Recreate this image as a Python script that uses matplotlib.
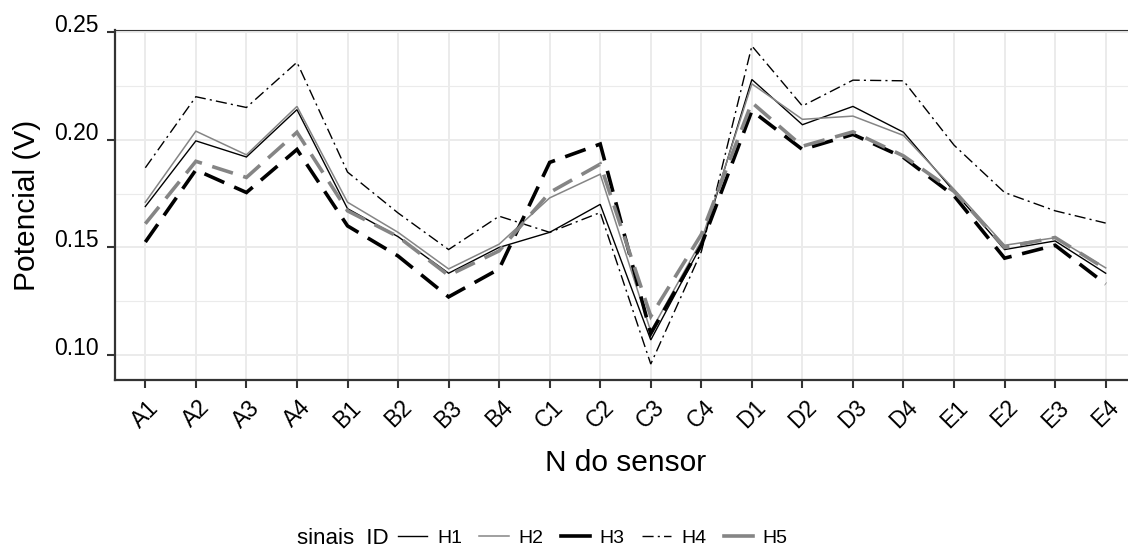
import matplotlib
matplotlib.use("Agg")
import matplotlib.pyplot as plt
from matplotlib.lines import Line2D

plt.rcParams['font.family'] = ['Liberation Sans', 'DejaVu Sans']

# sensor labels and signal values (V)
sensores = ['A1', 'A2', 'A3', 'A4', 'B1', 'B2', 'B3', 'B4', 'C1', 'C2',
            'C3', 'C4', 'D1', 'D2', 'D3', 'D4', 'E1', 'E2', 'E3', 'E4']
H1 = [0.169, 0.1995, 0.192, 0.214, 0.168, 0.155, 0.138, 0.150, 0.157, 0.170,
      0.107, 0.151, 0.228, 0.207, 0.2155, 0.2035, 0.176, 0.149, 0.153, 0.138]
H2 = [0.171, 0.204, 0.193, 0.2155, 0.171, 0.157, 0.140, 0.1515, 0.173, 0.184,
      0.111, 0.153, 0.226, 0.2095, 0.211, 0.202, 0.177, 0.151, 0.1545, 0.1405]
H3 = [0.1525, 0.186, 0.1755, 0.1955, 0.160, 0.146, 0.127, 0.140, 0.1895, 0.198,
      0.110, 0.151, 0.2135, 0.1955, 0.2025, 0.1918, 0.174, 0.145, 0.151, 0.133]
H4 = [0.187, 0.220, 0.215, 0.236, 0.185, 0.166, 0.149, 0.1645, 0.157, 0.1662,
      0.0958, 0.148, 0.2436, 0.2157, 0.2277, 0.2274, 0.1975, 0.1755, 0.167, 0.1613]
H5 = [0.161, 0.190, 0.1825, 0.2035, 0.167, 0.155, 0.137, 0.1484, 0.1755, 0.1887,
      0.118, 0.156, 0.2173, 0.197, 0.2037, 0.1925, 0.176, 0.150, 0.1546, 0.140]

series = {'H1': H1, 'H2': H2, 'H3': H3, 'H4': H4, 'H5': H5}
estilos = {
    'H1': dict(color='black', lw=1.0, ls='-'),
    'H2': dict(color='#858585', lw=1.1, ls='-'),
    'H3': dict(color='black', lw=2.6, ls=(0, (6, 3))),
    'H4': dict(color='black', lw=1.0, ls=(0, (8, 3, 1.5, 3))),
    'H5': dict(color='#858585', lw=2.6, ls=(0, (6, 3))),
}

fig = plt.figure(figsize=(11.28, 5.54), dpi=100)
ax = fig.add_axes([115 / 1128, 174 / 554, 1021 / 1128, 350 / 554])

x = list(range(len(sensores)))
for nome, vals in series.items():
    st = estilos[nome]
    ax.plot(x, vals, color=st['color'], lw=st['lw'], linestyle=st['ls'],
            solid_joinstyle='miter', dash_joinstyle='miter')

ax.set_xlim(-0.6, len(sensores) - 1 + 0.6)
ax.set_ylim(0.0884, 0.2510)
ax.set_yticks([0.10, 0.15, 0.20, 0.25])
ax.set_yticklabels(['0.10', '0.15', '0.20', '0.25'], va='baseline')
ax.set_yticks([0.125, 0.175, 0.225], minor=True)
ax.set_xticks(x)
ax.set_xticklabels(sensores, rotation=45, ha='center', va='center',
                   rotation_mode='anchor')

ax.grid(True, which='major', color='#EBEBEB', lw=1.4)
ax.grid(True, which='minor', axis='y', color='#EBEBEB', lw=0.8)
ax.set_axisbelow(True)

for s in ['left', 'bottom']:
    ax.spines[s].set_color('#333333')
    ax.spines[s].set_linewidth(1.6)
ax.spines['top'].set_color('#333333')
ax.spines['top'].set_linewidth(0.8)
ax.spines['right'].set_color('#333333')
ax.spines['right'].set_linewidth(0.8)

ax.tick_params(axis='both', which='major', length=5.5, width=1.5, color='#333333',
               labelsize=16.5, labelcolor='black')
ax.tick_params(axis='x', pad=19)
ax.tick_params(axis='y', pad=6)
ax.tick_params(which='minor', length=0)

ax.set_xlabel('N do sensor', fontsize=21.5, va='center')
ax.xaxis.set_label_coords(0.5, (380 - 463) / 350)
ax.set_ylabel('Potencial (V)', fontsize=21.5, va='center', ha='center')
ax.yaxis.set_label_coords((27 - 115) / 1021, 0.5)

# legend, title on the left like ggplot bottom legend
fig.text(297 / 1128, 1 - 538 / 554, 'sinais  ID', fontsize=16, va='center', ha='left')
handles = []
for nome in series:
    st = estilos[nome]
    ls = st['ls'] if nome == 'H4' else '-'
    handles.append(Line2D([], [], color=st['color'], lw=st['lw'], linestyle=ls))
fig.legend(handles, list(series.keys()), loc='center left',
           bbox_to_anchor=(398 / 1128, 1 - 538 / 554), ncol=5, frameon=False,
           fontsize=14, handlelength=1.5, handletextpad=0.5, columnspacing=0.9,
           borderpad=0, borderaxespad=0)

fig.savefig('out.png', dpi=100)
